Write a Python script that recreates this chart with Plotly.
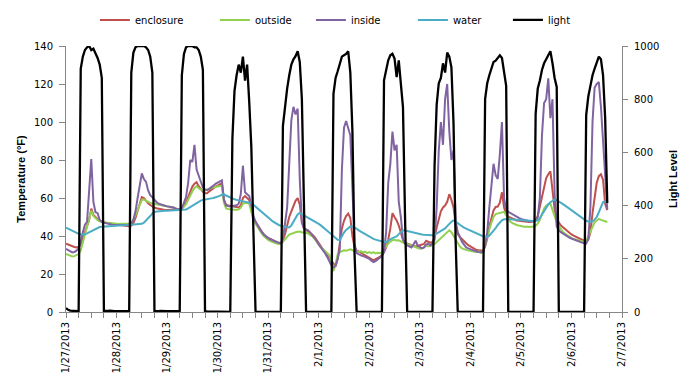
import pandas as pd
import plotly.graph_objects as go

# ---- data (hourly readings from 1/27/2013 00:00) ----
enclosure = [
    36.0, 35.5, 35.0, 34.5, 34.2, 34.0, 34.3, 35.5, 38.5, 41.5, 44.5, 48.5, 54.4, 51.0, 50.0, 48.8, 48.2, 47.6, 47.2, 46.9, 46.6, 46.4, 46.3, 46.2,
    46.0, 45.8, 45.6, 45.4, 45.3, 45.2, 45.2, 45.5, 46.8, 49.5, 53.5, 57.5, 60.5, 60.0, 58.5, 57.2, 56.3, 55.5, 55.0, 54.6, 54.3, 54.1, 53.9, 53.7,
    53.7, 53.8, 54.0, 54.2, 54.0, 53.8, 54.0, 55.0, 56.0, 57.5, 60.5, 63.5, 66.0, 67.5, 68.3, 66.2, 64.5, 63.3, 62.5, 62.5, 63.5, 64.5, 65.5, 66.0,
    66.5, 67.0, 67.8, 59.0, 56.5, 56.0, 55.8, 55.5, 55.3, 55.2, 55.0, 56.0, 60.0, 61.0, 60.0, 59.0, 53.5, 49.5, 47.5, 45.5, 43.7, 42.2, 40.8, 39.6,
    39.0, 38.4, 37.8, 37.3, 36.8, 36.4, 36.1, 38.0, 41.0, 46.0, 50.0, 53.0, 56.0, 58.5, 60.0, 56.5, 47.5, 44.0, 43.2, 42.4, 41.7, 40.6, 39.5, 37.8,
    35.8, 34.5, 33.0, 31.5, 30.0, 28.5, 26.5, 25.0, 24.0, 28.0, 36.0, 44.0, 48.0, 50.5, 51.8, 49.5, 40.0, 34.0, 32.5, 31.8, 31.0, 30.3, 29.8, 29.0,
    28.5, 27.8, 27.2, 27.8, 28.3, 29.0, 30.0, 31.5, 34.0, 38.0, 44.0, 52.0, 50.0, 48.2, 45.5, 42.0, 38.0, 36.5, 36.0, 35.5, 35.2, 34.8, 34.5, 34.8,
    35.0, 35.4, 35.8, 37.5, 37.0, 36.5, 36.8, 39.0, 44.5, 49.5, 53.0, 55.0, 56.0, 58.0, 62.0, 59.0, 55.0, 46.0, 41.0, 39.5, 38.2, 37.2, 36.2, 35.2,
    34.5, 33.6, 33.0, 32.6, 32.5, 32.3, 32.2, 34.5, 38.5, 45.0, 50.0, 53.5, 55.3, 55.5, 57.5, 63.0, 55.0, 51.5, 50.2, 49.6, 49.0, 48.5, 48.2, 48.0,
    47.8, 47.6, 47.5, 47.4, 47.4, 47.5, 47.8, 48.2, 50.5, 55.3, 61.0, 66.5, 70.5, 72.5, 74.0, 64.0, 54.0, 49.5, 47.0, 45.5, 44.5, 43.5, 42.5, 41.5,
    40.8, 40.2, 39.6, 39.0, 38.5, 38.0, 37.2, 37.0, 38.0, 42.0, 52.0, 61.0, 68.0, 71.5, 72.5, 69.5, 57.0, 53.6,
]

outside = [
    30.5, 30.0, 29.5, 29.2, 29.4, 29.8, 30.5, 32.5, 36.5, 40.5, 45.0, 49.0, 53.3, 50.5, 49.2, 48.3, 47.8, 47.5, 47.2, 47.0, 46.9, 46.8, 46.6, 46.5,
    46.4, 46.3, 46.4, 46.5, 46.3, 46.4, 46.5, 47.0, 48.5, 51.0, 54.0, 56.5, 59.0, 59.2, 58.5, 57.8, 57.4, 57.1, 56.9, 56.7, 56.6, 56.2, 55.9, 55.6,
    55.4, 55.2, 55.1, 55.0, 54.5, 54.0, 53.7, 54.3, 55.3, 56.8, 59.0, 61.5, 63.5, 65.3, 66.3, 65.2, 64.3, 63.9, 64.0, 64.3, 64.7, 65.2, 65.7, 66.0,
    66.3, 66.5, 66.5, 57.5, 54.5, 54.2, 54.0, 54.0, 53.8, 53.8, 54.0, 55.0, 57.0, 57.3, 57.5, 57.0, 52.0, 48.5, 46.5, 44.5, 42.8, 41.2, 39.8, 38.7,
    37.9, 37.3, 36.8, 36.4, 36.0, 35.8, 36.0, 37.0, 38.5, 39.5, 40.8, 41.3, 41.6, 42.0, 42.2, 42.3, 42.0, 41.8, 41.5, 41.3, 40.5, 39.8, 38.5, 37.0,
    35.2, 34.0, 33.2, 32.3, 31.0, 30.0, 26.5, 21.5, 25.0, 30.5, 31.5, 32.0, 32.5, 32.2, 32.8, 33.0, 32.5, 31.8, 32.2, 31.5, 32.0, 31.3, 31.8, 31.0,
    31.5, 31.0, 31.5, 30.8, 31.2, 31.0, 31.5, 33.0, 35.0, 36.0, 37.0, 37.8, 38.0, 37.6, 37.8, 37.0, 36.5, 36.2, 35.8, 35.2, 34.8, 34.2, 33.8, 33.5,
    33.3, 33.5, 34.0, 35.0, 34.5, 34.8, 35.0, 35.8, 36.8, 37.6, 38.5, 39.5, 40.5, 42.0, 43.0, 42.0, 40.0, 38.0, 36.0, 34.5, 33.5, 33.0, 32.5, 32.3,
    32.2, 32.0, 31.8, 31.5, 32.0, 31.0, 31.5, 36.0, 39.5, 43.5, 47.0, 50.0, 51.5, 51.8, 52.0, 52.5, 52.7, 51.0, 49.0, 47.5, 46.8, 46.2, 45.8, 45.5,
    45.2, 45.0, 44.8, 45.0, 44.7, 44.9, 45.0, 45.5, 46.5, 48.5, 52.0, 54.5, 56.0, 56.8, 57.0, 53.5, 49.5, 47.2, 45.2, 43.5, 42.1, 41.2, 40.3, 39.5,
    38.9, 38.5, 38.2, 37.8, 37.3, 37.0, 37.0, 37.5, 40.0, 42.0, 45.0, 47.2, 48.2, 49.0, 48.5, 48.0, 47.6, 47.4,
]

inside = [
    33.2, 32.5, 31.8, 31.4, 31.6, 32.3, 33.5, 37.0, 42.0, 46.0, 47.5, 62.0, 80.5, 58.0, 52.5, 52.0, 48.5, 47.3, 47.0, 46.6, 46.2, 46.0, 45.9, 45.8,
    45.8, 45.7, 45.6, 45.6, 45.7, 45.8, 46.0, 46.5, 48.5, 53.0, 60.0, 67.0, 73.0, 70.0, 68.5, 64.0, 61.5, 60.4, 58.8, 57.8, 57.0, 56.5, 56.2, 55.9,
    55.6, 55.5, 55.3, 55.0, 54.5, 54.0, 53.8, 54.5, 57.5, 60.5, 68.0, 80.0, 79.0, 88.0, 75.0, 71.5, 68.0, 65.5, 64.5, 64.2, 64.8, 65.5, 66.5, 67.5,
    68.0, 68.6, 69.3, 59.0, 56.0, 55.8, 55.5, 55.8, 56.0, 56.2, 57.0, 62.0, 77.0, 63.0, 62.0, 61.0, 56.0, 50.5, 47.5, 45.5, 43.7, 42.0, 40.6, 39.5,
    38.9, 38.3, 37.7, 37.2, 36.8, 36.4, 36.1, 38.5, 46.0, 55.0, 78.0, 101.0, 108.0, 104.0, 107.0, 70.0, 47.0, 44.0, 43.5, 43.0, 41.8, 40.5, 39.2, 37.5,
    35.5, 34.0, 33.0, 31.0, 29.0, 26.5, 24.5, 23.5, 24.5, 28.0, 33.0, 75.0, 97.0, 100.5, 96.0, 93.0, 65.0, 36.0, 31.0, 30.2, 29.8, 29.5, 29.0, 28.5,
    28.0, 27.0, 26.3, 26.8, 27.5, 28.5, 29.5, 31.5, 42.0, 68.0, 78.0, 95.0, 85.0, 88.0, 58.0, 50.0, 38.0, 36.0, 35.0, 34.5, 34.0, 35.5, 37.5, 35.0,
    34.0, 33.5, 34.0, 35.5, 36.0, 35.0, 36.0, 38.0, 55.0, 85.0, 100.0, 88.0, 112.0, 120.0, 95.0, 80.0, 85.0, 48.0, 42.0, 39.0, 37.0, 35.5, 34.0, 33.5,
    33.0, 32.5, 32.0, 31.8, 31.6, 31.5, 31.5, 35.0, 42.0, 55.0, 68.0, 78.0, 72.0, 70.0, 83.0, 100.0, 60.0, 53.5, 52.7, 52.0, 51.2, 50.5, 50.0, 49.5,
    49.0, 48.6, 48.3, 48.0, 47.8, 47.6, 47.7, 48.2, 50.0, 60.0, 93.0, 110.0, 112.0, 123.0, 102.0, 112.0, 62.0, 45.0, 43.0, 42.0, 41.2, 40.5, 39.8, 39.2,
    38.7, 38.2, 37.8, 37.3, 36.9, 36.5, 36.2, 36.0, 38.5, 55.0, 100.0, 118.0, 120.0, 121.0, 108.0, 90.0, 70.0, 54.0,
]

water = [
    44.4, 43.8, 43.2, 42.6, 42.0, 41.5, 41.1, 40.8, 40.7, 40.9, 41.4, 42.0, 42.6, 43.2, 43.8, 44.3, 44.7, 44.9, 45.0, 45.1, 45.2, 45.3, 45.4, 45.5,
    45.5, 45.5, 45.6, 45.6, 45.6, 45.7, 45.7, 45.8, 45.9, 46.0, 46.1, 46.2, 46.4, 47.0, 48.0, 49.2, 50.5, 51.8, 52.6, 52.9, 53.1, 53.2, 53.3, 53.3,
    53.3, 53.4, 53.4, 53.5, 53.5, 53.6, 53.6, 53.7, 53.8, 54.0, 54.6, 55.3, 56.0, 56.8, 57.5, 58.1, 58.6, 59.0, 59.3, 59.5, 59.7, 59.8, 60.0, 60.3,
    60.6, 61.1, 61.7, 61.9, 61.3, 60.7, 60.2, 59.7, 59.3, 59.0, 58.8, 58.6, 58.4, 58.2, 58.1, 57.9, 57.3, 56.4, 55.5, 54.5, 53.5, 52.6, 51.6, 50.6,
    49.7, 48.8, 47.8, 47.0, 46.3, 45.8, 45.4, 45.1, 44.9, 44.7, 44.5, 45.6, 47.6, 49.6, 51.3, 52.1, 51.5, 50.8, 50.1, 49.5, 48.9, 48.3, 47.7, 47.0,
    46.4, 45.6, 44.8, 43.8, 42.8, 41.8, 40.8, 39.7, 38.7, 38.0, 37.9, 40.0, 41.8, 43.2, 44.3, 45.0, 45.1, 44.6, 43.8, 43.0, 42.3, 41.7, 41.0, 40.4,
    39.8, 39.1, 38.5, 38.1, 37.7, 37.4, 37.1, 36.9, 36.9, 37.4, 38.2, 38.9, 39.3, 39.8, 41.0, 42.2, 43.0, 42.9, 42.6, 42.2, 41.9, 41.6, 41.3, 41.1,
    40.9, 40.8, 40.7, 40.6, 40.5, 40.4, 40.4, 40.6, 41.2, 41.8, 42.4, 43.0, 44.0, 45.2, 46.4, 47.5, 48.2, 47.6, 46.8, 45.9, 45.0, 44.4, 43.9, 43.4,
    42.9, 42.4, 41.8, 41.2, 40.6, 40.2, 39.9, 39.7, 39.6, 40.2, 41.4, 42.8, 44.2, 45.8, 47.2, 48.3, 48.8, 48.9, 48.8, 48.8, 48.7, 48.6, 48.5, 48.4,
    48.3, 48.2, 48.1, 48.0, 48.0, 47.9, 47.9, 48.0, 48.2, 49.5, 51.3, 53.1, 55.0, 56.6, 57.8, 58.7, 59.2, 58.9, 58.3, 57.6, 56.8, 56.0, 55.2, 54.4,
    53.6, 52.8, 52.0, 51.0, 50.0, 49.2, 48.5, 48.0, 47.6, 47.4, 47.6, 48.6, 50.0, 52.5, 55.2, 57.8, 58.1, 58.2,
]

light = [
    15, 8, 5, 4, 4, 3, 3, 915, 960, 985, 995, 1000, 985, 990, 975, 955, 930, 880, 4, 3, 4, 5, 3, 3,
    3, 4, 3, 3, 4, 3, 3, 900, 975, 995, 1000, 1000, 1000, 1000, 995, 985, 960, 900, 4, 3, 3, 4, 3, 3,
    3, 3, 4, 3, 3, 3, 4, 890, 970, 995, 1000, 1000, 1000, 995, 995, 985, 960, 910, 3, 2, 2, 2, 1, 1,
    0, 0, 0, 0, 0, 0, 0, 650, 830, 890, 930, 900, 960, 870, 930, 790, 620, 300, 0, 0, 0, 0, 0, 0,
    0, 0, 0, 0, 0, 0, 0, 700, 780, 840, 890, 930, 950, 962, 980, 940, 800, 400, 0, 0, 0, 0, 0, 0,
    0, 0, 0, 0, 0, 0, 0, 820, 880, 905, 930, 960, 965, 970, 980, 900, 680, 220, 0, 0, 0, 0, 0, 0,
    0, 0, 0, 0, 0, 0, 0, 871, 915, 946, 965, 971, 953, 883, 946, 860, 770, 350, 0, 0, 0, 0, 0, 0,
    0, 0, 0, 0, 0, 0, 0, 550, 780, 860, 880, 935, 900, 975, 960, 920, 710, 270, 0, 0, 0, 0, 0, 0,
    0, 0, 0, 0, 0, 0, 0, 800, 860, 890, 920, 940, 945, 955, 965, 955, 896, 850, 0, 0, 0, 0, 0, 0,
    0, 0, 0, 0, 0, 0, 0, 746, 840, 870, 910, 935, 950, 965, 980, 935, 880, 846, 0, 0, 0, 0, 0, 0,
    0, 0, 0, 0, 0, 0, 0, 740, 810, 850, 890, 915, 935, 960, 950, 890, 730, 410,
]

times = pd.date_range("2013-01-27 00:00", periods=len(light), freq="h")

temp_ticks = [0, 20, 40, 60, 80, 100, 120, 140]
light_ticks = [0, 200, 400, 600, 800, 1000]

series = [
    ("enclosure", enclosure, "#C0504D", 75),
    ("outside", outside, "#92D050", 51),
    ("inside", inside, "#8064A2", 57),
    ("water", water, "#4BACC6", 50),
]

fig = go.Figure()
for name, vals, col, lw in series:
    fig.add_trace(go.Scatter(x=times, y=vals, name=name, mode="lines",
                             line=dict(color=col, width=2), yaxis="y",
                             legendwidth=lw))
fig.add_trace(go.Scatter(x=times, y=light, name="light", mode="lines",
                         line=dict(color="black", width=2.3), yaxis="y2",
                         legendwidth=48))

axis_col = "#868686"
# page body has an 8px default margin, so the figure is sized to fit the window
fig.update_layout(
    width=681, height=380,
    margin=dict(l=58, r=67, t=38, b=76, autoexpand=False),
    plot_bgcolor="white", paper_bgcolor="white",
    font=dict(family="DejaVu Sans", size=10, color="black"),
    legend=dict(orientation="h", x=0.052, y=1.098, xanchor="left", yanchor="middle",
                font=dict(size=10), bgcolor="rgba(0,0,0,0)"),
    xaxis=dict(type="date", range=["2013-01-27", "2013-02-07"],
               tickmode="linear", tick0="2013-01-27", dtick=86400000,
               tickformat="%-m/%-d/%Y", tickangle=-90, automargin=False,
               ticks="outside", ticklen=5, tickcolor=axis_col,
               showline=True, linecolor=axis_col, showgrid=False, zeroline=False,
               minor=dict(dtick=6 * 3600000, ticks="outside", ticklen=5,
                          tickcolor=axis_col, showgrid=False)),
    yaxis=dict(range=[0, 140], tickvals=temp_ticks, ticks="outside", ticklen=6,
               tickcolor=axis_col, showline=True, linecolor=axis_col,
               showgrid=False, zeroline=False, automargin=False, ticklabelstandoff=4,
               title=dict(text="<b>Temperature (°F)</b>",
                          font=dict(family="Liberation Sans", size=11), standoff=6)),
    yaxis2=dict(range=[0, 1000], tickvals=light_ticks, overlaying="y", side="right",
                ticks="outside", ticklen=5, tickcolor=axis_col, automargin=False,
                ticklabelstandoff=4,
                showline=True, linecolor=axis_col, showgrid=False, zeroline=False,
                title=dict(text="<b>Light Level</b>",
                           font=dict(family="Liberation Sans", size=11), standoff=10)),
)

fig.write_html("out.html")
